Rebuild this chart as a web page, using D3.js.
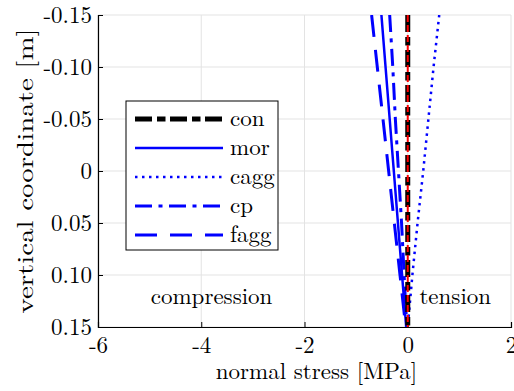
<!DOCTYPE html>
<html>
<head>
<meta charset="utf-8">
<script src="https://cdn.jsdelivr.net/npm/d3@7"></script>
<style>
  body { margin: 0; background: #fff; }
</style>
</head>
<body>
<div id="chart"></div>
<script>
// vertical coordinate (m), top of section to bottom
var depth = [-0.15, -0.10, -0.05, 0, 0.05, 0.10, 0.15];

// normal stress (MPa) for each material at those depths
var con  = [0, 0, 0, 0, 0, 0, 0];
var mor  = [-0.51, -0.43, -0.35, -0.27, -0.19, -0.11, -0.03];
var cagg = [0.61, 0.50, 0.40, 0.30, 0.19, 0.09, 0.0];
var cp   = [-0.35, -0.29, -0.24, -0.18, -0.12, -0.07, -0.02];
var fagg = [-0.70, -0.59, -0.48, -0.37, -0.26, -0.15, -0.04];
var ref  = [0, 0, 0, 0, 0, 0, 0];

var xTicks = [-6, -4, -2, 0, 2];
var xTickLabels = ['-6', '-4', '-2', '0', '2'];
var yTicks = [-0.15, -0.10, -0.05, 0, 0.05, 0.10, 0.15];
var yTickLabels = ['-0.15', '-0.10', '-0.05', '0', '0.05', '0.10', '0.15'];

// single family name only, lists fall back to sans here
var FONT = "'Latin Modern Roman'";

var W = 514, H = 391;
var margin = {top: 15, right: 3, bottom: 64, left: 98};
var width = W - margin.left - margin.right,
    height = H - margin.top - margin.bottom;

var svg = d3.select('#chart').append('svg')
    .attr('width', W)
    .attr('height', H);

var g = svg.append('g')
    .attr('transform', 'translate(' + margin.left + ',' + margin.top + ')');

var x = d3.scaleLinear().domain([-6, 2]).range([0, width]);
var y = d3.scaleLinear().domain([-0.15, 0.15]).range([0, height]);

// grid
g.append('g').selectAll('line.gx')
    .data(xTicks).enter().append('line')
    .attr('x1', function(d) { return x(d); })
    .attr('x2', function(d) { return x(d); })
    .attr('y1', 0).attr('y2', height)
    .style('stroke', '#e3e3e3').style('stroke-width', 1);
g.append('g').selectAll('line.gy')
    .data(yTicks).enter().append('line')
    .attr('x1', 0).attr('x2', width)
    .attr('y1', function(d) { return y(d); })
    .attr('y2', function(d) { return y(d); })
    .style('stroke', '#e3e3e3').style('stroke-width', 1);

// axes (ticks point inward)
var xAxis = d3.axisBottom(x).tickValues(xTicks).tickSize(-5).tickPadding(10)
    .tickFormat(function(d, i) { return xTickLabels[i]; });
var yAxis = d3.axisLeft(y).tickValues(yTicks).tickSize(-5).tickPadding(6)
    .tickFormat(function(d, i) { return yTickLabels[i]; });

var gx = g.append('g').attr('transform', 'translate(0,' + height + ')').call(xAxis);
var gy = g.append('g').call(yAxis);
[gx, gy].forEach(function(a) {
    a.attr('font-family', FONT).attr('font-size', 23);
    a.select('.domain').style('stroke', '#000').style('stroke-width', 1.2);
    a.selectAll('.tick line').style('stroke', '#000');
});
gx.selectAll('text').attr('dy', '0.71em');

// series
var series = [
    {name: 'con',  values: con,  color: '#000', width: 5,   dash: '17,5,8.5,4.5'},
    {name: 'mor',  values: mor,  color: '#00f', width: 2.5, dash: null},
    {name: 'cagg', values: cagg, color: '#00f', width: 2.5, dash: '2.5,4.5'},
    {name: 'cp',   values: cp,   color: '#00f', width: 3,   dash: '17,6.5,4,6.5'},
    {name: 'fagg', values: fagg, color: '#00f', width: 3,   dash: '22,13'}
];

var line = d3.line()
    .x(function(d) { return x(d[0]); })
    .y(function(d) { return y(d[1]); });

g.append('clipPath').attr('id', 'plotclip')
    .append('rect').attr('width', width).attr('height', height);

var lines = g.append('g').attr('clip-path', 'url(#plotclip)');

series.slice(1).reverse().forEach(function(s) {
    var pts = s.values.map(function(v, i) { return [v, depth[i]]; });
    lines.append('path')
        .datum(pts)
        .attr('d', line)
        .style('fill', 'none')
        .style('stroke', s.color)
        .style('stroke-width', s.width)
        .style('stroke-dasharray', s.dash);
});
// con on top of blues, then the red reference
lines.append('path')
    .datum(con.map(function(v, i) { return [v, depth[i]]; }))
    .attr('d', line)
    .style('fill', 'none').style('stroke', '#000').style('stroke-width', 5)
    .style('stroke-dasharray', '17,5,8.5,4.5');
lines.append('path')
    .datum(ref.map(function(v, i) { return [v, depth[i]]; }))
    .attr('d', line)
    .style('fill', 'none').style('stroke', '#f00').style('stroke-width', 2)
    .style('stroke-dasharray', '7,3');

// region labels
g.append('text')
    .attr('x', x(-3.8)).attr('y', y(0.128))
    .attr('text-anchor', 'middle')
    .attr('font-family', FONT).attr('font-size', 23)
    .text('compression');
g.append('text')
    .attr('x', x(0.92)).attr('y', y(0.128))
    .attr('text-anchor', 'middle')
    .attr('font-family', FONT).attr('font-size', 23)
    .text('tension');

// legend
var legend = svg.append('g').attr('transform', 'translate(126,101)');
legend.append('rect')
    .attr('width', 152).attr('height', 149)
    .style('fill', '#fff').style('stroke', '#000').style('stroke-width', 1);
var rowH = 29;
var items = legend.selectAll('g.item').data(series).enter().append('g')
    .attr('transform', function(d, i) { return 'translate(0,' + (18 + i * rowH) + ')'; });
items.append('line')
    .attr('x1', 9).attr('x2', 97).attr('y1', 0).attr('y2', 0)
    .style('stroke', function(d) { return d.color; })
    .style('stroke-width', function(d) { return d.width; })
    .style('stroke-dasharray', function(d) { return d.dash; });
items.append('text')
    .attr('x', 104).attr('y', 0).attr('dy', '0.3em')
    .attr('font-family', FONT).attr('font-size', 23)
    .text(function(d) { return d.name; });

// axis titles
svg.append('text')
    .attr('x', margin.left + x(-2) + 12).attr('y', 379)
    .attr('text-anchor', 'middle')
    .attr('font-family', FONT).attr('font-size', 23)
    .text('normal stress [MPa]');
svg.append('text')
    .attr('transform', 'translate(33,' + (margin.top + y(0)) + ') rotate(-90)')
    .attr('text-anchor', 'middle')
    .attr('font-family', FONT).attr('font-size', 23)
    .attr('textLength', 285).attr('lengthAdjust', 'spacingAndGlyphs')
    .text('vertical coordinate [m]');
</script>
</body>
</html>
